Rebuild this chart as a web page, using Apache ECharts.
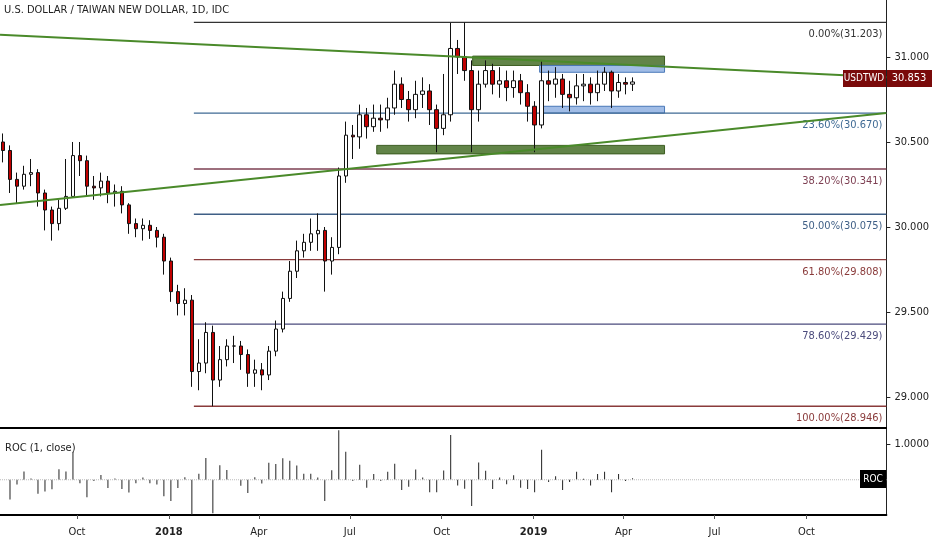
<!DOCTYPE html><html><head><meta charset="utf-8">
<script src="https://cdn.jsdelivr.net/npm/echarts@6/dist/echarts.min.js"></script>
<style>html,body{margin:0;padding:0;background:#fff}#c{width:932px;height:550px}</style></head><body><div id="c"></div>
<script>
const closes=[30.45,30.28,30.24,30.31,30.32,30.20,30.10,30.02,30.11,30.18,30.42,30.39,30.24,30.23,30.27,30.20,30.21,30.13,30.02,29.99,30.01,29.98,29.94,29.80,29.62,29.55,29.57,29.15,29.20,29.38,29.10,29.22,29.30,29.30,29.25,29.14,29.16,29.13,29.27,29.40,29.58,29.74,29.86,29.91,29.96,29.98,29.80,29.88,30.30,30.54,30.53,30.66,30.59,30.64,30.63,30.70,30.84,30.75,30.69,30.78,30.80,30.69,30.58,30.66,31.05,31.00,30.92,30.69,30.84,30.92,30.84,30.86,30.82,30.86,30.79,30.71,30.60,30.86,30.84,30.87,30.78,30.76,30.83,30.84,30.79,30.84,30.91,30.80,30.85,30.84,30.853];
const highs=[30.55,30.48,30.32,30.36,30.40,30.34,30.22,30.12,30.16,30.40,30.50,30.50,30.42,30.30,30.32,30.30,30.25,30.24,30.14,30.05,30.05,30.04,30.00,29.96,29.82,29.66,29.64,29.60,29.34,29.44,29.42,29.30,29.34,29.36,29.33,29.28,29.22,29.20,29.30,29.45,29.62,29.80,29.92,29.96,30.05,30.08,30.00,29.94,30.35,30.62,30.60,30.72,30.70,30.72,30.72,30.76,30.92,30.88,30.80,30.86,30.88,30.84,30.72,30.90,31.20,31.10,31.203,30.98,30.92,30.98,30.96,30.94,30.92,30.92,30.90,30.84,30.74,30.98,30.92,30.94,30.90,30.86,30.90,30.90,30.88,30.92,30.94,30.92,30.90,30.88,30.88];
const lows=[30.38,30.20,30.14,30.22,30.24,30.12,29.98,29.92,29.98,30.10,30.18,30.30,30.18,30.16,30.18,30.14,30.12,30.08,29.96,29.94,29.92,29.93,29.88,29.72,29.56,29.48,29.48,29.06,29.04,29.14,28.946,29.06,29.18,29.20,29.16,29.06,29.06,29.04,29.10,29.24,29.38,29.56,29.70,29.82,29.86,29.86,29.62,29.72,29.84,30.26,30.40,30.46,30.52,30.56,30.56,30.58,30.66,30.70,30.62,30.64,30.70,30.60,30.44,30.54,30.62,30.90,30.86,30.44,30.62,30.82,30.78,30.76,30.74,30.76,30.72,30.62,30.44,30.58,30.74,30.76,30.70,30.68,30.72,30.74,30.72,30.74,30.80,30.70,30.76,30.78,30.80];
const startWeek='2017-07-17';
const fibLevels=[31.203,30.670,30.341,30.075,29.808,29.429,28.946];
const fibLabels=['0.00%(31.203)','23.60%(30.670)','38.20%(30.341)','50.00%(30.075)','61.80%(29.808)','78.60%(29.429)','100.00%(28.946)'];
const fibColors=['#333333','#3f6a94','#7d3f52','#3f5f86','#8a3b3b','#4b4b7c','#8a3b3b'];
const fibStart='2018-01-26', rightEnd='2019-12-20';
const trendUpper=[['2017-07-16',31.13],['2019-12-20',30.88]];
const trendLower=[['2017-07-16',30.13],['2019-12-20',30.67]];
const zones=[['2018-11-01',31.005,'2019-05-12',30.95,'green'],['2018-07-28',30.48,'2019-05-12',30.43,'green'],['2019-01-07',30.95,'2019-05-12',30.91,'blue'],['2019-01-07',30.71,'2019-05-12',30.67,'blue']];
const xTicks=[['2017-10-01','Oct'],['2018-01-01','2018'],['2018-04-01','Apr'],['2018-07-01','Jul'],['2018-10-01','Oct'],['2019-01-01','2019'],['2019-04-01','Apr'],['2019-07-01','Jul'],['2019-10-01','Oct']];
const priceTicks=[29,29.5,30,30.5,31];

const DAY=86400000;const T=s=>Date.parse(s+'T00:00:00Z');const t0=T(startWeek);
const dates=closes.map((c,i)=>t0+i*7*DAY+2*DAY);
const candles=closes.map((c,i)=>[dates[i],i?closes[i-1]:30.50,c,lows[i],highs[i]]);
const roc=closes.map((c,i)=>[dates[i],i?+(100*(c-closes[i-1])/closes[i-1]).toFixed(3):0]);
const xmin=T('2017-07-16'),xmax=T(rightEnd);
const tickVals=xTicks.map(t=>T(t[0]));
const ch=echarts.init(document.getElementById('c'));
const ff='"Liberation Sans Narrow","DejaVu Sans Condensed",sans-serif';
const series=[
 {type:'candlestick',xAxisIndex:0,yAxisIndex:0,data:candles,barWidth:4,
  itemStyle:{color:'#ffffff',color0:'#c00000',borderColor:'#111',borderColor0:'#111',borderWidth:1},
  markArea:{silent:true,data:zones.map(z=>[{coord:[T(z[0]),z[1]],itemStyle:{color:z[4]=='green'?'rgba(70,110,40,0.85)':'rgba(120,160,220,0.7)',borderColor:z[4]=='green'?'#3d5e22':'#4a78b8',borderWidth:1}},{coord:[T(z[2]),z[3]]}])},z:5},
 {type:'line',xAxisIndex:0,yAxisIndex:0,data:trendUpper.map(p=>[T(p[0]),p[1]]),symbol:'none',lineStyle:{color:'#4a8a2a',width:2},z:6},
 {type:'line',xAxisIndex:0,yAxisIndex:0,data:trendLower.map(p=>[T(p[0]),p[1]]),symbol:'none',lineStyle:{color:'#4a8a2a',width:2},z:6}
];
fibLevels.forEach((v,i)=>series.push({type:'line',xAxisIndex:0,yAxisIndex:0,data:[[T(fibStart),v],[xmax,v]],symbol:'none',lineStyle:{color:fibColors[i],width:1.3},z:3,
 endLabel:{show:true,formatter:fibLabels[i],color:fibColors[i],fontSize:11,fontFamily:ff,align:'right',offset:[-12,12]}}));
series.push({type:'bar',xAxisIndex:1,yAxisIndex:1,data:roc,barWidth:1,itemStyle:{color:'#222'}});
series.push({type:'line',xAxisIndex:1,yAxisIndex:1,data:[[xmin,0],[xmax,0]],symbol:'none',lineStyle:{color:'#bbb',width:1,type:'dotted'}});
ch.setOption({animation:false,
 grid:[{left:0,right:45,top:0,height:428},{left:0,right:45,top:429,height:86}],
 xAxis:[{type:'value',gridIndex:0,min:xmin,max:xmax,axisLine:{show:false},axisTick:{show:false},axisLabel:{show:false},splitLine:{show:false}},
  {type:'value',gridIndex:1,min:xmin,max:xmax,axisLine:{show:true,onZero:false,lineStyle:{color:'#000',width:2}},
   axisTick:{show:true,customValues:tickVals,length:4,lineStyle:{color:'#555'}},
   axisLabel:{customValues:tickVals,fontSize:11,fontFamily:ff,color:'#222',margin:12,
    formatter:v=>{const k=tickVals.indexOf(v);if(k<0)return '';const s=xTicks[k][1];return /^\d/.test(s)?'{b|'+s+'}':s;},rich:{b:{fontWeight:'bold',fontSize:11,fontFamily:ff}}},splitLine:{show:false}}],
 yAxis:[{type:'value',gridIndex:0,position:'right',min:28.818,max:31.335,axisLine:{show:true,lineStyle:{color:'#222'}},
   axisTick:{show:true,customValues:priceTicks,length:4},axisLabel:{customValues:priceTicks,formatter:v=>v.toFixed(3),fontSize:11,fontFamily:ff,color:'#222',margin:8},splitLine:{show:false}},
  {type:'value',gridIndex:1,position:'right',min:-1,max:1.44,axisLine:{show:true,lineStyle:{color:'#222'}},
   axisTick:{show:true,customValues:[1],length:4},axisLabel:{customValues:[1],formatter:v=>v.toFixed(4),fontSize:11,fontFamily:ff,color:'#222',margin:8},splitLine:{show:false}}],
 series,
 graphic:[
  {type:'text',left:4,top:5,style:{text:'U.S. DOLLAR / TAIWAN NEW DOLLAR, 1D, IDC',fontSize:11,fontFamily:ff,fill:'#222'}},
  {type:'text',left:5,top:443,style:{text:'ROC (1, close)',fontSize:11,fontFamily:ff,fill:'#222'}},
  {type:'rect',z:100,shape:{x:0,y:427,width:887,height:2},style:{fill:'#000'}},
  {type:'rect',z:100,shape:{x:843,y:70,width:43,height:17},style:{fill:'#7a0a0a'}},
  {type:'text',z:101,x:864,y:78,style:{text:'USDTWD',fontSize:10,fontFamily:ff,fill:'#fff',align:'center',verticalAlign:'middle'}},
  {type:'rect',z:100,shape:{x:887,y:70,width:45,height:17},style:{fill:'#7a0a0a'}},
  {type:'text',z:101,x:909,y:78,style:{text:'30.853',fontSize:11,fontFamily:ff,fill:'#fff',align:'center',verticalAlign:'middle'}},
  {type:'rect',z:100,shape:{x:860,y:470,width:26,height:18},style:{fill:'#000'}},
  {type:'text',z:101,x:873,y:479,style:{text:'ROC',fontSize:10,fontFamily:ff,fill:'#fff',align:'center',verticalAlign:'middle'}}
 ]});
</script></body></html>
